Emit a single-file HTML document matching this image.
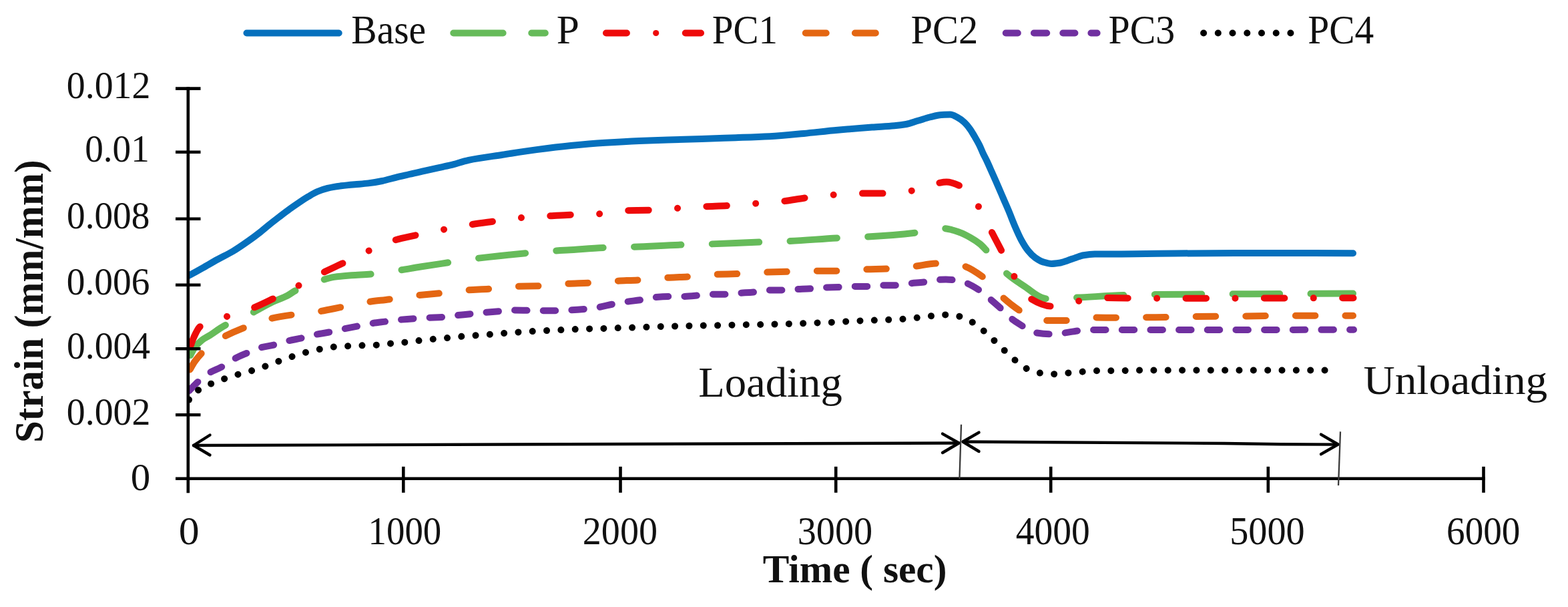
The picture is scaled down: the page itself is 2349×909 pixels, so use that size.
<!DOCTYPE html>
<html><head><meta charset="utf-8"><title>Strain vs Time</title>
<style>html,body{margin:0;padding:0;background:#fff;width:2349px;height:909px;overflow:hidden}svg{display:block}</style>
</head><body>
<svg width="2349" height="909" viewBox="0 0 2349 909">
<rect width="2349" height="909" fill="#fff"/>
<defs><clipPath id="plotclip"><rect x="281.8" y="100" width="1800" height="620"/></clipPath></defs>
<g clip-path="url(#plotclip)">
<path d="M282.5,413.0C289.3,409.2 296.2,405.4 303.0,401.6C310.7,397.3 318.3,392.7 326.0,388.5C333.7,384.3 341.3,380.7 349.0,376.2C356.8,371.6 364.6,366.1 372.4,360.6C377.5,357.0 382.7,353.2 387.8,349.2C392.9,345.2 398.1,340.7 403.2,336.6C408.3,332.5 413.5,328.5 418.6,324.6C423.7,320.7 428.9,316.7 434.0,313.0C439.1,309.3 444.3,305.7 449.4,302.3C453.6,299.5 457.8,296.8 462.0,294.3C466.4,291.7 470.9,288.9 475.3,287.0C480.4,284.8 485.5,283.0 490.6,281.8C497.4,280.2 504.3,279.2 511.1,278.3C517.9,277.4 524.7,276.8 531.5,276.2C538.3,275.6 545.1,275.2 551.9,274.4C558.7,273.6 565.6,272.4 572.4,271.0C579.2,269.6 586.0,267.5 592.8,265.8C599.6,264.1 606.4,262.6 613.2,261.0C620.0,259.4 626.9,257.9 633.7,256.4C640.5,254.9 647.3,253.3 654.1,251.8C660.9,250.3 667.8,249.0 674.6,247.4C683.7,245.2 692.9,241.7 702.0,239.8C719.0,236.3 736.0,234.3 753.0,231.7C770.0,229.1 787.0,226.3 804.0,224.1C821.1,221.9 838.3,219.8 855.4,218.1C872.4,216.4 889.5,214.9 906.5,213.8C923.5,212.7 940.6,211.7 957.6,211.0C971.7,210.4 985.9,210.0 1000.0,209.5C1017.0,209.0 1034.0,208.5 1051.0,208.0C1068.0,207.5 1085.0,206.8 1102.0,206.2C1119.0,205.6 1136.0,205.1 1153.0,204.2C1170.0,203.3 1187.0,201.5 1204.0,199.9C1221.0,198.3 1238.0,196.3 1255.0,194.8C1272.2,193.2 1289.3,191.8 1306.5,190.5C1317.7,189.7 1328.8,189.3 1340.0,188.3C1345.9,187.8 1351.7,187.1 1357.6,186.0C1363.5,184.9 1369.3,182.5 1375.2,180.8C1381.1,179.1 1386.9,176.9 1392.8,175.5C1398.7,174.1 1404.5,172.3 1410.4,172.0C1414.8,171.8 1419.2,171.6 1423.6,171.6C1427.2,171.6 1430.7,173.9 1434.3,175.7C1437.6,177.4 1441.0,179.9 1444.3,182.9C1447.2,185.5 1450.0,189.0 1452.9,192.9C1455.3,196.1 1457.6,200.3 1460.0,204.3C1462.4,208.4 1464.8,212.4 1467.2,217.2C1469.1,221.0 1471.0,226.1 1472.9,230.1C1474.8,234.1 1476.7,237.5 1478.6,241.5C1480.5,245.6 1482.5,250.1 1484.4,254.4C1486.3,258.7 1488.2,263.0 1490.1,267.3C1492.0,271.6 1493.9,275.8 1495.8,280.2C1498.2,285.7 1500.6,291.4 1503.0,297.0C1506.0,304.1 1509.1,310.9 1512.1,318.2C1514.9,325.0 1517.8,332.7 1520.6,339.2C1523.8,346.6 1527.1,354.2 1530.3,360.0C1533.5,365.8 1536.7,371.1 1539.9,375.0C1543.5,379.5 1547.2,383.3 1550.8,385.9C1554.8,388.7 1558.9,391.2 1562.9,392.4C1566.9,393.6 1571.0,395.0 1575.0,395.0C1579.0,395.0 1583.1,394.4 1587.1,393.8C1591.1,393.2 1595.2,391.5 1599.2,390.2C1603.2,388.9 1607.3,387.2 1611.3,385.9C1615.3,384.6 1619.4,382.9 1623.4,382.3C1628.9,381.4 1634.5,380.7 1640.0,380.6C1660.0,380.4 1680.0,380.4 1700.0,380.3C1720.0,380.2 1740.0,379.7 1760.0,379.5C1790.0,379.2 1820.0,378.9 1850.0,378.9C1909.0,378.9 1968.0,379.1 2027.0,379.2" fill="none" stroke="#0570bd" stroke-width="10" stroke-linecap="round" stroke-linejoin="round"/>
<path d="M282.5,537.5C285.6,531.8 288.7,524.6 291.8,520.5C295.5,515.5 299.3,511.8 303.0,509.0C306.1,506.6 309.3,505.3 312.4,503.3C320.5,498.2 328.6,491.9 336.7,487.5C349.2,480.7 361.6,476.6 374.1,470.5C385.6,464.8 397.2,457.4 408.7,452.0C415.8,448.7 422.9,446.6 430.0,443.0C434.3,440.8 438.7,437.2 443.0,435.0C449.3,431.8 455.7,429.5 462.0,427.0C467.8,424.7 473.5,422.4 479.3,420.6C486.3,418.4 493.4,415.9 500.4,414.9C509.2,413.6 518.0,413.0 526.8,412.3C536.8,411.6 546.8,411.3 556.8,410.5C569.7,409.4 582.6,407.1 595.5,405.2C607.0,403.5 618.5,401.3 630.0,399.5C644.6,397.2 659.2,395.1 673.8,392.9C686.4,391.0 699.1,388.9 711.7,387.3C724.5,385.7 737.2,384.4 750.0,383.0C763.1,381.6 776.2,380.2 789.3,379.0C802.5,377.8 815.7,376.6 828.9,375.7C835.9,375.2 843.0,374.9 850.0,374.5C868.7,373.4 887.4,371.5 906.1,370.8C919.3,370.3 932.5,370.2 945.7,369.8C971.6,369.0 997.4,367.3 1023.3,366.5C1036.5,366.1 1049.7,365.9 1062.9,365.5C1088.7,364.7 1114.6,363.4 1140.4,362.5C1153.5,362.0 1166.6,361.7 1179.7,361.2C1205.6,360.1 1231.4,357.6 1257.3,356.3C1270.5,355.6 1283.7,355.3 1296.9,354.6C1323.3,353.2 1349.7,351.3 1376.1,348.0C1384.1,347.0 1392.0,344.7 1400.0,343.5C1404.1,342.9 1408.2,342.0 1412.3,342.0C1416.9,342.0 1421.6,343.3 1426.2,344.3C1430.8,345.3 1435.4,347.1 1440.0,348.9C1444.6,350.7 1449.3,353.2 1453.9,355.8C1458.5,358.4 1463.1,361.3 1467.7,365.0C1471.6,368.1 1475.4,372.5 1479.3,376.6C1488.1,386.0 1496.8,399.5 1505.6,407.4C1515.4,416.3 1525.2,422.7 1535.0,429.0C1545.7,435.9 1556.3,447.2 1567.0,447.2C1580.1,447.2 1593.1,446.4 1606.2,445.9C1631.9,444.9 1657.6,442.9 1683.3,442.1C1696.5,441.7 1709.8,441.2 1723.0,441.1C1824.3,440.1 1925.7,440.1 2027.0,439.6" fill="none" stroke="#66bb5a" stroke-width="10" stroke-linecap="round" stroke-linejoin="round" stroke-dasharray="70.50 46.35" stroke-dashoffset="110.56"/>
<path d="M282.5,527.5C285.0,520.3 287.5,511.5 290.0,506.0C293.1,499.1 296.2,492.0 299.3,489.5C305.5,484.5 311.8,482.8 318.0,480.5C324.6,478.1 331.1,476.6 337.7,474.6C350.5,470.7 363.2,467.2 376.0,462.4C386.9,458.3 397.8,452.8 408.7,447.5C420.9,441.6 433.0,435.2 445.2,428.8C457.2,422.5 469.3,415.6 481.3,409.5C491.8,404.2 502.3,399.5 512.8,394.5C525.4,388.5 537.9,382.1 550.5,376.5C563.0,370.9 575.5,364.4 588.0,360.6C599.5,357.1 611.1,354.9 622.6,352.3C636.1,349.3 649.7,346.6 663.2,344.0C676.3,341.5 689.4,338.9 702.5,336.8C714.3,334.9 726.2,333.4 738.0,331.8C751.6,329.9 765.1,327.4 778.7,326.2C792.1,325.0 805.6,324.4 819.0,323.6C829.3,323.0 839.7,322.3 850.0,321.9C865.4,321.2 880.8,321.1 896.2,320.3C910.0,319.6 923.7,315.7 937.5,315.3C949.0,315.0 960.6,315.0 972.1,314.7C985.5,314.3 999.0,312.9 1012.4,312.0C1025.9,311.1 1039.5,310.0 1053.0,309.4C1065.1,308.8 1077.2,308.6 1089.3,308.0C1102.8,307.3 1116.4,305.8 1129.9,304.8C1143.2,303.8 1156.5,303.1 1169.8,301.8C1182.5,300.5 1195.1,297.8 1207.8,296.2C1220.7,294.6 1233.5,292.9 1246.4,291.9C1259.9,290.9 1273.5,289.6 1287.0,289.6C1299.1,289.6 1311.2,289.6 1323.3,289.6C1336.8,289.6 1350.4,287.8 1363.9,286.0C1376.8,284.2 1389.6,277.2 1402.5,274.8C1407.7,273.8 1412.8,272.5 1418.0,272.5C1424.9,272.5 1431.9,275.5 1438.8,278.7C1447.6,282.8 1456.5,295.7 1465.3,308.4C1471.6,317.5 1477.9,332.7 1484.2,344.7C1489.7,355.2 1495.2,365.3 1500.7,376.1C1506.8,388.0 1512.8,402.7 1518.9,413.0C1526.5,425.9 1534.1,441.1 1541.7,445.9C1552.7,452.8 1563.6,458.5 1574.6,458.5C1587.9,458.5 1601.2,453.0 1614.5,451.0C1627.7,449.0 1641.0,445.9 1654.2,445.9C1666.4,445.9 1678.7,446.4 1690.9,446.5C1704.6,446.6 1718.2,446.8 1731.9,446.8C1830.4,446.8 1929.0,446.4 2027.5,446.2" fill="none" stroke="#ee0a0a" stroke-width="10" stroke-linecap="round" stroke-linejoin="round" stroke-dasharray="30.50 43.41 0.01 43.40" stroke-dashoffset="105.56"/>
<path d="M282.5,557.0C285.7,551.7 288.8,545.4 292.0,541.0C295.7,535.9 299.3,531.8 303.0,528.0C308.0,522.8 313.0,517.5 318.0,514.0C323.6,510.0 329.2,507.3 334.8,504.5C345.4,499.2 356.0,494.7 366.6,490.5C378.5,485.8 390.3,480.6 402.2,477.8C413.7,475.1 425.2,473.3 436.7,471.6C449.9,469.7 463.1,468.7 476.3,466.7C487.9,464.9 499.4,462.3 511.0,460.0C523.7,457.5 536.3,454.4 549.0,452.5C561.0,450.7 573.0,449.6 585.0,448.0C597.5,446.3 610.1,444.0 622.6,442.6C635.1,441.2 647.5,440.4 660.0,439.1C672.1,437.8 684.2,435.6 696.3,434.7C709.1,433.7 721.9,433.4 734.7,432.5C746.8,431.6 758.9,429.4 771.0,429.0C783.8,428.6 796.7,428.6 809.5,428.2C821.7,427.8 833.8,425.6 846.0,425.0C858.3,424.3 870.7,424.2 883.0,423.6C895.7,423.0 908.3,421.6 921.0,420.9C933.1,420.2 945.2,420.0 957.3,419.3C969.9,418.6 982.6,416.8 995.2,416.0C1007.3,415.3 1019.4,415.0 1031.5,414.3C1044.2,413.5 1056.8,411.5 1069.5,411.0C1081.6,410.5 1093.7,410.4 1105.8,410.0C1119.0,409.5 1132.2,408.2 1145.4,407.7C1157.4,407.3 1169.4,407.1 1181.4,406.8C1194.0,406.5 1206.7,405.8 1219.3,405.8C1231.4,405.8 1243.5,405.8 1255.6,405.8C1268.3,405.8 1280.9,404.0 1293.6,403.5C1305.7,403.0 1317.8,403.0 1329.9,402.5C1342.5,402.0 1355.2,400.5 1367.8,399.2C1379.9,397.9 1392.0,394.5 1404.1,394.5C1409.4,394.5 1414.7,394.5 1420.0,394.5C1427.2,394.5 1434.5,396.1 1441.7,397.8C1452.3,400.2 1462.8,407.7 1473.4,415.5C1482.3,422.0 1491.1,435.4 1500.0,443.4C1509.7,452.1 1519.3,459.9 1529.0,466.1C1534.3,469.5 1539.7,473.0 1545.0,475.0C1551.1,477.2 1557.1,480.0 1563.2,480.0C1575.4,480.0 1587.6,480.0 1599.8,480.0C1612.5,480.0 1625.1,475.5 1637.8,475.5C1650.0,475.5 1662.3,475.8 1674.5,475.8C1686.9,475.8 1699.2,475.4 1711.6,475.3C1724.3,475.2 1736.9,475.2 1749.6,475.0C1761.8,474.8 1774.1,474.1 1786.3,474.0C1811.2,473.7 1836.1,473.7 1861.0,473.5C1885.9,473.3 1910.7,472.8 1935.6,472.8C1966.1,472.8 1996.5,472.8 2027.0,472.8" fill="none" stroke="#e46612" stroke-width="10" stroke-linecap="round" stroke-linejoin="round" stroke-dasharray="29.50 45.10" stroke-dashoffset="70.38"/>
<path d="M282.5,586.0C287.5,581.0 292.4,575.5 297.4,571.0C301.8,567.0 306.1,562.8 310.5,560.0C318.0,555.3 325.5,553.3 333.0,549.0C338.0,546.2 342.9,541.8 347.9,539.0C355.4,534.8 362.9,531.8 370.4,528.5C376.0,526.0 381.6,523.1 387.2,521.5C395.6,519.0 404.1,518.2 412.5,516.0C417.8,514.6 423.2,512.5 428.5,511.2C436.7,509.1 445.0,507.9 453.2,506.0C459.3,504.6 465.3,502.6 471.4,501.3C478.5,499.8 485.7,498.9 492.8,497.5C499.4,496.2 506.0,494.5 512.6,493.1C520.9,491.3 529.1,489.8 537.4,488.1C542.9,487.0 548.4,485.7 553.9,484.8C562.1,483.4 570.4,482.5 578.6,481.4C584.1,480.7 589.6,479.8 595.1,479.2C603.9,478.3 612.7,477.6 621.5,477.0C627.0,476.6 632.5,476.2 638.0,475.9C646.8,475.4 655.6,475.4 664.4,474.8C669.9,474.4 675.4,473.2 680.9,472.6C689.7,471.6 698.4,470.8 707.2,469.9C712.3,469.4 717.5,468.7 722.6,468.2C731.4,467.4 740.2,466.7 749.0,466.0C754.5,465.5 760.0,464.6 765.5,464.6C774.3,464.6 783.1,464.8 791.9,464.9C797.4,465.0 802.9,465.3 808.4,465.3C817.2,465.3 826.0,465.3 834.8,465.3C841.0,465.3 847.1,464.8 853.3,464.5C861.0,464.1 868.7,463.5 876.4,462.8C882.5,462.2 888.5,461.5 894.6,460.5C902.3,459.3 910.0,457.1 917.7,455.6C923.7,454.4 929.8,453.2 935.8,452.3C944.1,451.0 952.3,450.3 960.6,449.0C966.1,448.1 971.5,446.3 977.0,445.7C985.3,444.8 993.5,444.0 1001.8,444.0C1007.9,444.0 1013.9,444.0 1020.0,444.0C1028.8,444.0 1037.6,443.1 1046.4,442.4C1051.9,442.0 1057.4,440.7 1062.9,440.7C1071.1,440.7 1079.4,440.7 1087.6,440.7C1093.1,440.7 1098.6,439.5 1104.1,439.1C1112.9,438.4 1121.7,438.2 1130.5,437.4C1137.0,436.8 1143.5,434.5 1150.0,434.5C1157.7,434.5 1165.4,434.5 1173.1,434.5C1179.2,434.5 1185.2,433.5 1191.3,433.2C1199.5,432.8 1207.8,432.7 1216.0,432.2C1222.1,431.9 1228.1,430.7 1234.2,430.5C1242.4,430.2 1250.7,430.2 1258.9,429.9C1264.4,429.7 1269.9,428.9 1275.4,428.9C1283.7,428.9 1291.9,428.9 1300.2,428.9C1306.2,428.9 1312.3,427.2 1318.3,427.2C1326.6,427.2 1334.8,427.2 1343.1,427.2C1349.1,427.2 1355.2,425.3 1361.2,424.6C1369.5,423.7 1377.7,423.3 1386.0,422.3C1391.7,421.6 1397.3,419.6 1403.0,419.2C1407.7,418.8 1412.3,418.5 1417.0,418.5C1421.0,418.5 1425.0,418.9 1429.0,419.3C1434.5,419.9 1440.0,421.4 1445.5,423.1C1452.7,425.4 1459.8,429.8 1467.0,434.5C1471.7,437.5 1476.3,442.0 1481.0,445.9C1487.7,451.6 1494.5,457.3 1501.2,463.6C1505.0,467.2 1508.8,471.8 1512.6,475.0C1519.3,480.6 1526.1,484.8 1532.8,488.9C1538.3,492.2 1543.8,496.8 1549.3,497.8C1557.7,499.3 1566.2,500.3 1574.6,500.3C1580.1,500.3 1585.5,499.6 1591.0,499.0C1599.4,498.1 1607.9,496.0 1616.3,495.2C1622.2,494.7 1628.1,494.0 1634.0,494.0C1642.0,494.0 1650.0,494.0 1658.0,494.0C1672.0,494.0 1686.0,494.0 1700.0,494.0C1809.3,494.0 1918.7,493.9 2028.0,493.8" fill="none" stroke="#7030a0" stroke-width="10" stroke-linecap="round" stroke-linejoin="round" stroke-dasharray="18.50 24.17" stroke-dashoffset="41.44"/>
<path d="M282.5,598.0C287.5,593.3 292.4,587.3 297.4,584.0C303.6,579.9 309.9,577.4 316.1,574.7C322.8,571.8 329.6,569.5 336.3,567.2C343.2,564.8 350.0,562.6 356.9,560.6C363.8,558.6 370.6,557.0 377.5,555.0C384.2,553.0 390.8,550.8 397.5,548.5C404.2,546.2 410.8,543.4 417.5,541.0C423.9,538.7 430.3,536.4 436.7,534.3C443.9,532.0 451.0,529.6 458.2,527.7C465.3,525.8 472.5,524.2 479.6,522.8C486.2,521.5 492.8,520.1 499.4,519.5C506.6,518.9 513.7,518.7 520.9,518.3C528.0,517.9 535.2,517.6 542.3,517.3C549.6,517.0 557.0,517.0 564.3,516.6C571.3,516.3 578.2,515.1 585.2,514.4C592.4,513.7 599.5,513.3 606.7,512.6C613.8,511.9 621.0,510.8 628.1,510.0C635.2,509.2 642.3,508.5 649.4,507.8C656.4,507.1 663.5,506.7 670.5,506.0C677.6,505.3 684.8,504.4 691.9,503.8C698.8,503.2 705.8,502.8 712.7,502.3C719.9,501.8 727.1,501.3 734.3,500.7C741.3,500.2 748.2,499.5 755.2,499.0C762.3,498.4 769.4,497.9 776.5,497.4C783.6,496.9 790.8,496.5 797.9,496.1C805.1,495.7 812.2,495.3 819.4,495.0C826.5,494.7 833.6,494.4 840.7,494.1C847.6,493.8 854.6,493.4 861.5,493.1C868.7,492.8 876.0,492.6 883.2,492.4C890.3,492.2 897.3,492.1 904.4,491.9C911.6,491.7 918.7,491.3 925.9,491.1C933.0,490.9 940.0,490.8 947.1,490.6C954.2,490.4 961.2,490.1 968.3,489.8C975.4,489.5 982.6,489.2 989.7,489.0C996.8,488.8 1003.8,488.7 1010.9,488.5C1018.1,488.3 1025.4,488.2 1032.6,488.0C1039.7,487.8 1046.7,487.6 1053.8,487.5C1060.8,487.4 1067.8,487.4 1074.8,487.3C1082.0,487.2 1089.3,486.9 1096.5,486.7C1103.6,486.5 1110.6,486.3 1117.7,486.2C1124.9,486.1 1132.2,486.1 1139.4,486.0C1146.4,485.9 1153.3,485.7 1160.3,485.5C1167.4,485.3 1174.4,485.2 1181.5,485.0C1188.7,484.8 1195.8,484.5 1203.0,484.2C1210.1,483.9 1217.1,483.6 1224.2,483.4C1231.4,483.1 1238.7,483.0 1245.9,482.7C1253.0,482.4 1260.0,481.8 1267.1,481.4C1274.3,481.0 1281.4,480.7 1288.6,480.4C1295.7,480.1 1302.7,479.9 1309.8,479.6C1316.9,479.3 1323.9,479.1 1331.0,478.8C1338.1,478.5 1345.3,478.2 1352.4,477.8C1359.5,477.4 1366.5,476.5 1373.6,475.8C1380.8,475.0 1388.1,473.9 1395.3,473.2C1402.4,472.5 1409.4,471.4 1416.5,471.4C1423.2,471.4 1430.0,472.5 1436.7,473.7C1443.4,474.9 1450.2,478.8 1456.9,482.6C1462.4,485.7 1467.9,490.6 1473.4,495.2C1478.4,499.4 1483.5,504.4 1488.5,509.1C1493.7,514.0 1499.0,519.4 1504.2,524.3C1509.5,529.3 1514.9,534.6 1520.2,539.0C1525.8,543.6 1531.5,548.9 1537.1,551.6C1543.9,554.8 1550.6,557.6 1557.4,558.5C1564.4,559.4 1571.3,560.2 1578.3,560.2C1585.5,560.2 1592.6,559.1 1599.8,558.5C1606.8,557.9 1613.8,557.2 1620.8,556.7C1628.0,556.1 1635.1,555.2 1642.3,555.2C1649.4,555.2 1656.5,555.2 1663.6,555.2C1670.8,555.2 1677.9,555.1 1685.1,555.0C1692.3,554.9 1699.4,554.5 1706.6,554.5C1801.1,554.5 1895.5,554.5 1990.0,554.5" fill="none" stroke="#000000" stroke-width="10" stroke-linecap="round" stroke-linejoin="round" stroke-dasharray="0.01 21.34" stroke-dashoffset="1.29"/>
<circle cx="283" cy="598.6" r="5.0" fill="#000000"/>
</g>
<g stroke="#000" stroke-width="4.6" fill="none" stroke-linecap="butt">
<line x1="281.8" y1="130.3" x2="281.8" y2="738.3"/>
<line x1="263" y1="716.8" x2="2224.8" y2="716.8"/>
<line x1="263" y1="132.6" x2="300.5" y2="132.6"/>
<line x1="263" y1="227.8" x2="300.5" y2="227.8"/>
<line x1="263" y1="327.8" x2="300.5" y2="327.8"/>
<line x1="263" y1="426.7" x2="300.5" y2="426.7"/>
<line x1="263" y1="522.2" x2="300.5" y2="522.2"/>
<line x1="263" y1="621.2" x2="300.5" y2="621.2"/>
<line x1="604.3" y1="698.8" x2="604.3" y2="737.8"/>
<line x1="929.5" y1="698.8" x2="929.5" y2="737.8"/>
<line x1="1252.2" y1="698.8" x2="1252.2" y2="737.8"/>
<line x1="1574.2" y1="698.8" x2="1574.2" y2="737.8"/>
<line x1="1899.8" y1="698.8" x2="1899.8" y2="737.8"/>
<line x1="2222.5" y1="698.8" x2="2222.5" y2="737.8"/>
</g>
<g stroke="#000" stroke-width="4.4" fill="none" stroke-linecap="round" stroke-linejoin="round">
<path d="M290,667 L1436,663.5"/>
<path d="M314.5,651.5 L290,667 L314.5,681.5"/>
<path d="M1412,649.6 L1436.5,663.5 L1412,678"/>
<path d="M1443,661.5 L1834,664 L1919,665.2 L2004,665.6"/>
<path d="M1466.5,647.6 L1442.5,661.5 L1466.5,676"/>
<path d="M1979,650.6 L2004.5,665.5 L1979,680.2"/>
</g>
<g stroke="#3a3a3a" stroke-width="2.3" fill="none">
<line x1="1440" y1="635.7" x2="1437.4" y2="717"/>
<line x1="2008" y1="646.4" x2="2005" y2="727"/>
</g>
<g fill="none" stroke-width="10" stroke-linecap="round">
<line x1="369.5" y1="49.5" x2="507.7" y2="49.5" stroke="#0570bd"/>
<line x1="679.3" y1="49.5" x2="753.6" y2="49.5" stroke="#66bb5a"/>
<line x1="796.3" y1="49.5" x2="816.8" y2="49.5" stroke="#66bb5a"/>
<line x1="908.0" y1="49.5" x2="938.9" y2="49.5" stroke="#ee0a0a"/>
<line x1="1026.8" y1="49.5" x2="1050.0" y2="49.5" stroke="#ee0a0a"/>
<line x1="1206.8" y1="49.5" x2="1237.7" y2="49.5" stroke="#e46612"/>
<line x1="1280.9" y1="49.5" x2="1311.8" y2="49.5" stroke="#e46612"/>
<line x1="1506.7" y1="49.5" x2="1524.8" y2="49.5" stroke="#7030a0"/>
<line x1="1548.9" y1="49.5" x2="1568.2" y2="49.5" stroke="#7030a0"/>
<line x1="1592.3" y1="49.5" x2="1610.4" y2="49.5" stroke="#7030a0"/>
<line x1="1634.4" y1="49.5" x2="1643.6" y2="49.5" stroke="#7030a0"/>
</g>
<circle cx="982.7" cy="49.5" r="4.6" fill="#ee0a0a"/>
<g fill="#000000">
<circle cx="1803.1" cy="49.5" r="5.0"/>
<circle cx="1824.8" cy="49.5" r="5.0"/>
<circle cx="1846.5" cy="49.5" r="5.0"/>
<circle cx="1868.3" cy="49.5" r="5.0"/>
<circle cx="1890.0" cy="49.5" r="5.0"/>
<circle cx="1911.7" cy="49.5" r="5.0"/>
<circle cx="1933.4" cy="49.5" r="5.0"/>
</g>
<g font-family='"Liberation Serif", serif' fill="#111">
<text x="526.30" y="65.00" font-size="60.65" textLength="111.76" lengthAdjust="spacingAndGlyphs">Base</text>
<text x="833.74" y="65.00" font-size="60.65" textLength="34.08" lengthAdjust="spacingAndGlyphs">P</text>
<text x="1066.81" y="65.00" font-size="60.65" textLength="98.06" lengthAdjust="spacingAndGlyphs">PC1</text>
<text x="1364.39" y="65.00" font-size="60.65" textLength="100.75" lengthAdjust="spacingAndGlyphs">PC2</text>
<text x="1660.50" y="65.00" font-size="60.65" textLength="99.71" lengthAdjust="spacingAndGlyphs">PC3</text>
<text x="1959.30" y="65.00" font-size="60.65" textLength="98.89" lengthAdjust="spacingAndGlyphs">PC4</text>
<text x="99.86" y="147.10" font-size="57.60" textLength="125.56" lengthAdjust="spacingAndGlyphs">0.012</text>
<text x="127.17" y="242.30" font-size="57.60" textLength="96.61" lengthAdjust="spacingAndGlyphs">0.01</text>
<text x="100.07" y="342.30" font-size="57.60" textLength="124.25" lengthAdjust="spacingAndGlyphs">0.008</text>
<text x="99.87" y="441.20" font-size="57.60" textLength="124.49" lengthAdjust="spacingAndGlyphs">0.006</text>
<text x="100.06" y="536.70" font-size="57.60" textLength="125.00" lengthAdjust="spacingAndGlyphs">0.004</text>
<text x="99.86" y="635.70" font-size="57.60" textLength="125.56" lengthAdjust="spacingAndGlyphs">0.002</text>
<text x="195.86" y="734.11" font-size="57.02" textLength="29.49" lengthAdjust="spacingAndGlyphs">0</text>
<text x="267.77" y="814.98" font-size="58.76" textLength="30.86" lengthAdjust="spacingAndGlyphs">0</text>
<text x="551.51" y="814.89" font-size="58.18" textLength="109.80" lengthAdjust="spacingAndGlyphs">1000</text>
<text x="872.85" y="814.89" font-size="58.18" textLength="112.10" lengthAdjust="spacingAndGlyphs">2000</text>
<text x="1194.66" y="814.89" font-size="58.18" textLength="112.49" lengthAdjust="spacingAndGlyphs">3000</text>
<text x="1521.63" y="814.89" font-size="58.18" textLength="111.10" lengthAdjust="spacingAndGlyphs">4000</text>
<text x="1842.26" y="814.89" font-size="58.18" textLength="112.49" lengthAdjust="spacingAndGlyphs">5000</text>
<text x="2167.08" y="814.89" font-size="58.18" textLength="110.25" lengthAdjust="spacingAndGlyphs">6000</text>
<text x="1142.87" y="872.00" font-size="60.19" font-weight="bold" textLength="275.57" lengthAdjust="spacingAndGlyphs">Time ( sec)</text>
<text x="1046.19" y="594.20" font-size="62.48" textLength="215.62" lengthAdjust="spacingAndGlyphs">Loading</text>
<text x="2042.58" y="590.40" font-size="60.95" textLength="275.64" lengthAdjust="spacingAndGlyphs">Unloading</text>
<text transform="translate(63.50,663.06) rotate(-90)" x="0" y="0" font-size="60.65" font-weight="bold" textLength="423.69" lengthAdjust="spacingAndGlyphs">Strain (mm/mm)</text>
</g>
</svg>
</body></html>
